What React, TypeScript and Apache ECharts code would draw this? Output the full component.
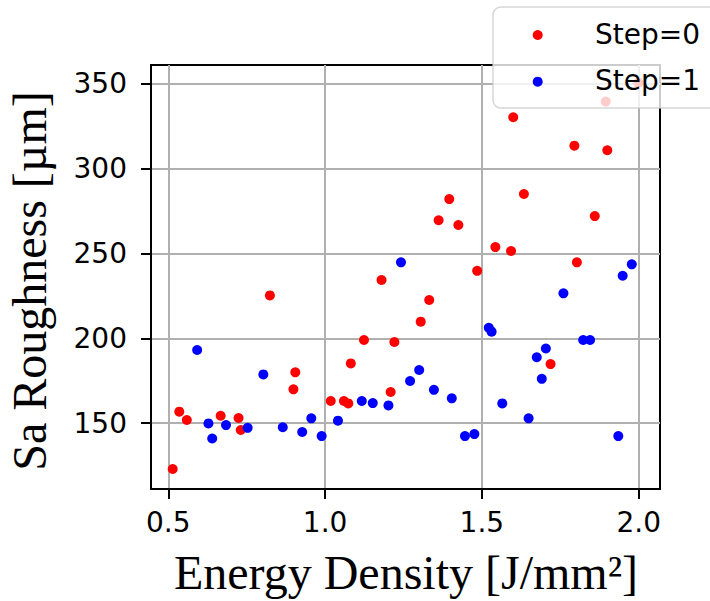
import React, { useEffect, useRef } from "react";
import * as echarts from "echarts";

const step0X = [0.514, 0.535, 0.559, 0.667, 0.724, 0.731, 0.824, 0.899, 0.905, 1.018, 1.06, 1.074, 1.082, 1.124, 1.18, 1.209, 1.221, 1.305, 1.332, 1.362, 1.396, 1.425, 1.485, 1.543, 1.593, 1.6, 1.634, 1.719, 1.795, 1.803, 1.86, 1.895, 1.9, 1.999];
const step0Y = [122.9, 156.7, 151.8, 154.3, 153.0, 145.9, 225.3, 169.9, 179.9, 163.0, 163.0, 161.6, 185.2, 199.0, 234.4, 168.3, 197.8, 209.8, 222.6, 269.6, 282.1, 266.8, 239.8, 253.8, 251.5, 330.4, 285.1, 184.8, 313.6, 244.8, 272.1, 339.6, 310.9, 350.8];

const step1X = [0.592, 0.628, 0.64, 0.684, 0.753, 0.803, 0.865, 0.927, 0.956, 0.989, 1.041, 1.117, 1.152, 1.202, 1.242, 1.271, 1.3, 1.347, 1.404, 1.446, 1.476, 1.522, 1.531, 1.565, 1.649, 1.675, 1.691, 1.704, 1.76, 1.823, 1.845, 1.935, 1.949, 1.978];
const step1Y = [193.1, 149.8, 140.9, 148.8, 147.2, 178.7, 147.5, 144.7, 152.8, 142.3, 151.4, 163.0, 161.8, 160.4, 244.8, 174.8, 181.3, 169.6, 164.6, 142.3, 143.5, 206.2, 203.9, 161.6, 152.8, 188.8, 176.1, 194.0, 226.5, 199.0, 199.0, 142.3, 236.9, 243.6];

const xTicks = [0.5, 1.0, 1.5, 2.0];
const yTicks = [150, 200, 250, 300, 350];
const seriesNames = ["Step=0", "Step=1"];
const seriesColors = ["#ff0000", "#0000ff"];
const xTitle = "Energy Density [J/mm²]";
const yTitle = "Sa Roughness [µm]";

export default function App() {
  const ref = useRef<HTMLDivElement>(null);
  useEffect(() => {
    if (!ref.current) return;
    const chart = echarts.init(ref.current, null, { renderer: "svg" });
    const zip = (xs: number[], ys: number[]) => xs.map((x, i) => [x, ys[i]]);
    const tickFont = { fontFamily: "DejaVu Sans", fontSize: 28, color: "#000" };
    chart.setOption({
      animation: false,
      backgroundColor: "#fff",
      grid: {
        left: 151,
        top: 65,
        width: 509,
        height: 424,
        show: true,
        borderColor: "#000",
        borderWidth: 2,
        backgroundColor: "transparent",
      },
      xAxis: {
        type: "value",
        min: 0.4448,
        max: 2.068,
        axisLine: { show: true, lineStyle: { color: "#000", width: 2 } },
        axisTick: { show: true, length: 10, inside: false, customValues: xTicks, lineStyle: { color: "#000", width: 2 } },
        axisLabel: {
          customValues: xTicks,
          margin: 19,
          ...tickFont,
          formatter: (v: number) => v.toFixed(1),
        },
        splitLine: { show: true, lineStyle: { color: "#b0b0b0", width: 2 } },
      },
      yAxis: {
        type: "value",
        min: 111.1,
        max: 361.2,
        axisLine: { show: true, lineStyle: { color: "#000", width: 2 } },
        axisTick: { show: true, length: 10, inside: false, customValues: yTicks, lineStyle: { color: "#000", width: 2 } },
        axisLabel: {
          customValues: yTicks,
          margin: 24,
          ...tickFont,
          formatter: (v: number) => String(Math.round(v)),
        },
        splitLine: { show: true, lineStyle: { color: "#b0b0b0", width: 2 } },
      },
      series: [
        {
          name: seriesNames[0],
          type: "scatter",
          data: zip(step0X, step0Y),
          symbol: "circle",
          symbolSize: 10,
          itemStyle: { color: seriesColors[0], opacity: 1 },
          z: 3,
        },
        {
          name: seriesNames[1],
          type: "scatter",
          data: zip(step1X, step1Y),
          symbol: "circle",
          symbolSize: 10,
          itemStyle: { color: seriesColors[1], opacity: 1 },
          z: 4,
        },
      ],
      graphic: [
        {
          type: "text",
          x: 406,
          y: 572,
          style: {
            text: xTitle,
            font: "48px 'Liberation Serif'",
            fill: "#000",
            align: "center",
            verticalAlign: "middle",
          },
        },
        {
          type: "text",
          x: 29,
          y: 281,
          rotation: Math.PI / 2,
          style: {
            text: yTitle,
            font: "48px 'Liberation Serif'",
            fill: "#000",
            align: "center",
            verticalAlign: "middle",
          },
        },
        {
          type: "group",
          z: 100,
          children: [
            {
              type: "rect",
              shape: { x: 493, y: 7, width: 260, height: 101, r: 8 },
              style: { fill: "rgba(255,255,255,0.8)", stroke: "rgba(204,204,204,0.8)", lineWidth: 1.5 },
              z: 100,
            },
            {
              type: "circle",
              shape: { cx: 537.7, cy: 35, r: 5 },
              style: { fill: seriesColors[0] },
              z: 101,
            },
            {
              type: "circle",
              shape: { cx: 537.7, cy: 81.7, r: 5 },
              style: { fill: seriesColors[1] },
              z: 101,
            },
            {
              type: "text",
              x: 595,
              y: 34,
              style: { text: seriesNames[0], font: "28px 'DejaVu Sans'", fill: "#000", align: "left", verticalAlign: "middle" },
              z: 101,
            },
            {
              type: "text",
              x: 595,
              y: 80,
              style: { text: seriesNames[1], font: "28px 'DejaVu Sans'", fill: "#000", align: "left", verticalAlign: "middle" },
              z: 101,
            },
          ],
        },
      ],
    });
    return () => chart.dispose();
  }, []);
  return (
    <div
      ref={ref}
      style={{ position: "fixed", left: 0, top: 0, width: 710, height: 601 }}
    />
  );
}
